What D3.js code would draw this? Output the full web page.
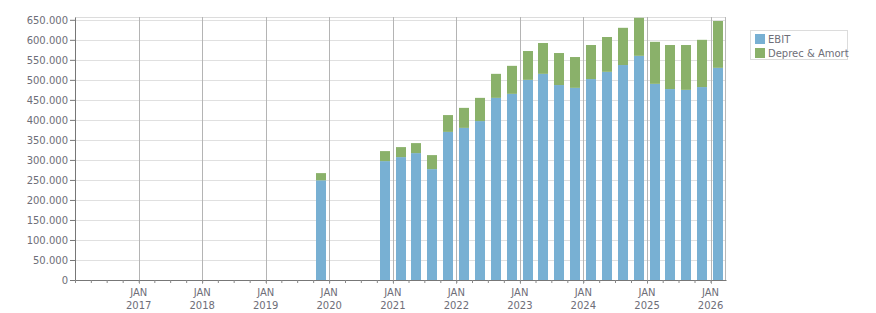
<!DOCTYPE html>
<html>
<head>
<meta charset="utf-8">
<script src="https://cdn.jsdelivr.net/npm/d3@7"></script>
<style>
  body { margin: 0; background: #fff; }
  text { font-family: "DejaVu Sans", sans-serif; font-size: 10px; fill: #6e6e78; }
</style>
</head>
<body>
<div id="chart"></div>
<script>
// quarterly data
const quarters = ["2019Q4", "2020Q4", "2021Q1", "2021Q2", "2021Q3", "2021Q4",
    "2022Q1", "2022Q2", "2022Q3", "2022Q4", "2023Q1", "2023Q2", "2023Q3", "2023Q4",
    "2024Q1", "2024Q2", "2024Q3", "2024Q4", "2025Q1", "2025Q2", "2025Q3", "2025Q4", "2026Q1"];
const ebit = [249000, 297000, 307000, 317000, 277000, 370000,
    380000, 397000, 455000, 465000, 500000, 515000, 487000, 480000,
    502000, 520000, 537000, 560000, 490000, 477000, 475000, 482000, 530000];
const deprec = [18000, 25000, 25000, 25000, 35000, 42000,
    50000, 58000, 60000, 70000, 72000, 77000, 80000, 77000,
    85000, 87000, 93000, 95000, 105000, 110000, 112000, 118000, 117000];
const seriesNames = ["EBIT", "Deprec & Amort"];
const colors = ["#78b0d3", "#8ab16a"];
const yTicks = d3.range(0, 650001, 50000);
const yearTicks = d3.range(2017, 2027);

let margin = {top: 17, right: 150, bottom: 33, left: 75},
    width = 876 - margin.left - margin.right,
    height = 313 - margin.top - margin.bottom;

// quarter -> middle of the quarter
function midQuarter(q) {
    let y = +q.slice(0, 4), n = +q.slice(5);
    return new Date(y, (n - 1) * 3 + 1, 15);
}

let data = quarters.map((q, i) => ({
    date: midQuarter(q), start: new Date(+q.slice(0, 4), (+q.slice(5) - 1) * 3, 1),
    ebit: ebit[i], deprec: deprec[i]
}));

let svg = d3.select("#chart").append("svg")
    .attr("width", width + margin.left + margin.right)
    .attr("height", height + margin.top + margin.bottom)
    .append("g")
    .attr("transform", "translate(" + margin.left + "," + margin.top + ")");

let x = d3.scaleTime()
    .domain([new Date(2016, 0, 1), new Date(2026, 2, 31)])
    .range([0, width]);
let y = d3.scaleLinear()
    .domain([0, 657000])
    .range([height, 0]);

let locale = d3.formatLocale({decimal: ",", thousands: ".", grouping: [3], currency: ["", ""]});
let fmt = locale.format(",");

// horizontal grid
svg.selectAll(".hgrid")
    .data(yTicks)
    .enter().append("line")
    .attr("x1", 0).attr("x2", width)
    .attr("y1", d => Math.round(y(d)) + 0.5).attr("y2", d => Math.round(y(d)) + 0.5)
    .attr("stroke", "#e0e0e0");

// frame top and right
svg.append("line").attr("x1", 0).attr("x2", width).attr("y1", 0.5).attr("y2", 0.5).attr("stroke", "#dcdcdc");
svg.append("line").attr("x1", width - 0.5).attr("x2", width - 0.5).attr("y1", 0).attr("y2", height).attr("stroke", "#b8b8b8");

// vertical year lines
let years = yearTicks.map(yr => new Date(yr, 0, 1));
svg.selectAll(".vgrid")
    .data(years)
    .enter().append("line")
    .attr("x1", d => Math.round(x(d)) + 0.5).attr("x2", d => Math.round(x(d)) + 0.5)
    .attr("y1", 0).attr("y2", height + 4)
    .attr("stroke", "#b4b4b4");

// stacked bars
let stack = d3.stack().keys(["ebit", "deprec"]);
let layers = stack(data);
let qWidth = x(new Date(2021, 3, 1)) - x(new Date(2021, 0, 1));
let barW = Math.round(qWidth * 0.64);

svg.selectAll(".layer")
    .data(layers)
    .enter().append("g")
    .attr("fill", (d, i) => colors[i])
    .selectAll("rect")
    .data(d => d)
    .enter().append("rect")
    .attr("x", d => Math.round(x(d.data.date) - barW / 2))
    .attr("width", barW)
    .attr("y", d => y(d[1]))
    .attr("height", d => y(d[0]) - y(d[1]));

// y axis
let yAxis = svg.append("g")
    .call(d3.axisLeft(y).tickValues(yTicks).tickFormat(fmt).tickSize(5).tickSizeOuter(0));
yAxis.select(".domain").attr("stroke", "#777");
yAxis.selectAll(".tick line").attr("stroke", "#777");
yAxis.selectAll("text").attr("x", -7).style("fill", "#6e6e78");

// x axis with quarterly minor ticks
let xAxis = svg.append("g")
    .attr("transform", "translate(0," + height + ")")
    .call(d3.axisBottom(x).ticks(d3.timeMonth.every(3)).tickFormat("").tickSize(3).tickSizeOuter(0));
xAxis.select(".domain").attr("stroke", "#777");
xAxis.selectAll(".tick line").attr("stroke", "#888");

// year labels, two lines
let labels = svg.selectAll(".xlabel")
    .data(years)
    .enter().append("text")
    .attr("text-anchor", "middle")
    .attr("transform", d => "translate(" + x(d) + "," + (height + 16) + ")");
labels.append("tspan").attr("x", 0).attr("y", 0).text("JAN");
labels.append("tspan").attr("x", 0).attr("y", 13).text(d => d.getFullYear());

// legend
let legend = d3.select("svg").append("g")
    .attr("transform", "translate(750,30)");
legend.append("rect")
    .attr("x", 0.5).attr("y", 0.5)
    .attr("width", 97).attr("height", 29)
    .attr("fill", "#fff").attr("stroke", "#dcdcdc");
seriesNames.forEach((name, i) => {
    legend.append("rect")
        .attr("x", 5).attr("y", 4 + i * 14)
        .attr("width", 10).attr("height", 10)
        .attr("fill", colors[i]);
    legend.append("text")
        .attr("x", 18).attr("y", 13 + i * 14)
        .text(name);
});
</script>
</body>
</html>
